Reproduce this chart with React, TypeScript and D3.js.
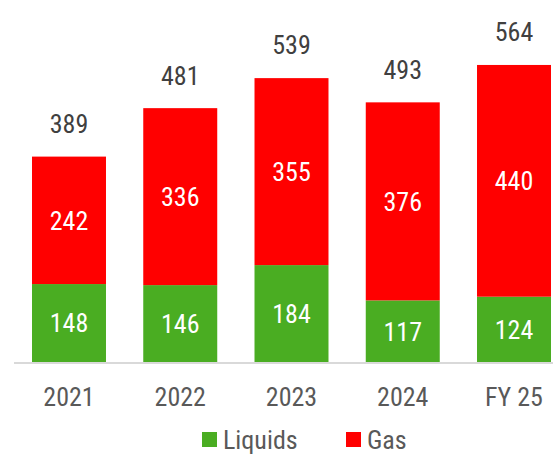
import React from "react";
import * as d3 from "d3";

const categories = ["2021", "2022", "2023", "2024", "FY 25"];
const liquids = [148, 146, 184, 117, 124];
const gas = [242, 336, 355, 376, 440];
const totals = [389, 481, 539, 493, 564];
const seriesNames = ["Liquids", "Gas"];
const seriesColors = ["#4aad22", "#ff0000"];

const W = 553;
const H = 455;
const FONT = "'Roboto Condensed', 'Liberation Sans Narrow', 'Arial Narrow', sans-serif";

export default function App() {
  const x = d3.scaleBand<string>().domain(categories).range([32, 551]).paddingInner(0.335).paddingOuter(0);
  const y = d3.scaleLinear().domain([0, 600]).range([362, 46]);
  const rows = categories.map((c, i) => ({ cat: c, Liquids: liquids[i], Gas: gas[i] }));
  const stack = d3.stack<any>().keys(seriesNames)(rows);
  const bw = x.bandwidth();

  return (
    <svg width={W} height={H} style={{ position: "absolute", left: 0, top: 0, background: "#fff" }} fontFamily={FONT}>
      {stack.map((s, si) => (
        <g key={s.key}>
          {s.map((d, i) => {
            const x0 = x(categories[i])!;
            const y0 = y(d[0]);
            const y1 = y(d[1]);
            return (
              <g key={i}>
                <rect x={x0} y={y1} width={bw} height={y0 - y1} fill={seriesColors[si]} />
                <text x={x0 + bw / 2} y={(y0 + y1) / 2} dy="0.36em" textAnchor="middle" fill="#fff" fontSize={26}>
                  {d[1] - d[0]}
                </text>
              </g>
            );
          })}
        </g>
      ))}
      <line x1={14} x2={553} y1={y(0) + 1} y2={y(0) + 1} stroke="#d9d9d9" strokeWidth={2} />
      {categories.map((c, i) => (
        <text key={c} x={x(c)! + bw / 2} y={y(totals[i]) - 33} dy="0.36em" textAnchor="middle" fill="#404040" fontSize={26}>
          {totals[i]}
        </text>
      ))}
      {categories.map((c) => (
        <text key={c} x={x(c)! + bw / 2} y={397} dy="0.36em" textAnchor="middle" fill="#595959" fontSize={26}>
          {c}
        </text>
      ))}
      {seriesNames.map((n, i) => {
        const lx = [202, 346][i];
        return (
          <g key={n}>
            <rect x={lx} y={432} width={15} height={15} fill={seriesColors[i]} />
            <text x={lx + 21} y={440} dy="0.36em" fill="#595959" fontSize={26}>
              {n}
            </text>
          </g>
        );
      })}
    </svg>
  );
}
